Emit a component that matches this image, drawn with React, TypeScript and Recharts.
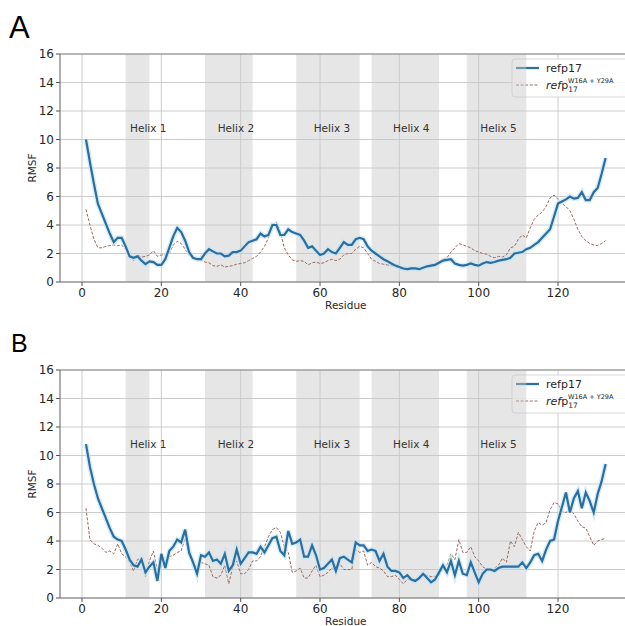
import React from 'react';
import {
  LineChart, Line, XAxis, YAxis, CartesianGrid, ReferenceArea, ReferenceDot, ReferenceLine, Customized,
} from 'recharts';

// residue index 1..132
const residues = Array.from({ length: 132 }, (_, i) => i + 1);

const helixNames = ['Helix 1', 'Helix 2', 'Helix 3', 'Helix 4', 'Helix 5'];
const helixStart = [11, 31, 54, 73, 97];
const helixEnd = [17, 43, 70, 90, 112];
const helixLabelX = [16.7, 38.8, 63, 83, 105];
const helixLabelY = 10.8;

const xTicks = [0, 20, 40, 60, 80, 100, 120];
const yTicks = [0, 2, 4, 6, 8, 10, 12, 14, 16];

// panel A
const refA = [
  10.0, 8.4, 6.9, 5.5, 4.8, 4.1, 3.4, 2.8, 3.1, 3.1,
  2.5, 1.8, 1.7, 1.8, 1.5, 1.25, 1.45, 1.4, 1.2, 1.2,
  1.6, 2.4, 3.2, 3.8, 3.5, 2.9, 2.1, 1.7, 1.6, 1.6,
  2.0, 2.3, 2.15, 2.0, 2.0, 1.8, 1.85, 2.1, 2.1, 2.2,
  2.5, 2.8, 2.9, 3.0, 3.4, 3.2, 3.3, 4.0, 4.0, 3.3,
  3.3, 3.7, 3.5, 3.4, 3.3, 2.9, 2.4, 2.5, 2.2, 1.9,
  2.0, 2.3, 2.1, 2.0, 2.4, 2.8, 2.6, 2.6, 3.0, 3.1,
  3.0, 2.5, 2.2, 2.0, 1.8, 1.6, 1.45, 1.3, 1.15, 1.05,
  0.95, 0.9, 0.95, 0.95, 0.9, 1.0, 1.1, 1.15, 1.2, 1.35,
  1.5, 1.55, 1.6, 1.3, 1.2, 1.15, 1.2, 1.3, 1.2, 1.15,
  1.3, 1.4, 1.35, 1.4, 1.5, 1.55, 1.6, 1.7, 2.0, 2.05,
  2.1, 2.3, 2.4, 2.6, 2.8, 3.1, 3.4, 3.7, 4.6, 5.5,
  5.65, 5.8, 6.0, 5.85, 5.9, 6.3, 5.75, 5.75, 6.3, 6.6,
  7.6, 8.7,
];
const mutA = [
  5.1, 4.0, 3.0, 2.4, 2.4, 2.5, 2.55, 2.6, 2.55, 2.6,
  2.3, 1.8, 1.5, 1.9, 1.75, 1.8, 1.9, 2.2, 1.8, 1.9,
  1.9, 2.0, 2.6, 2.85, 2.7, 2.3, 1.9, 1.65, 1.6, 1.55,
  1.4, 1.35, 1.15, 1.1, 1.2, 1.05, 1.1, 1.15, 1.25, 1.3,
  1.35, 1.5, 1.65, 1.8, 2.1, 2.5, 3.1, 4.0, 4.2, 3.5,
  2.4, 1.9, 1.55, 1.45, 1.5, 1.45, 1.2, 1.35, 1.4, 1.3,
  1.35, 1.5, 1.6, 1.5, 1.6, 1.9, 2.0, 2.0, 2.3, 2.5,
  2.4, 2.0, 1.6, 1.45, 1.3, 1.25, 1.2, 1.15, 1.1, 1.0,
  0.9, 0.85, 0.9, 0.95, 0.95, 1.0, 1.1, 1.2, 1.3, 1.4,
  1.6, 1.7, 2.1, 2.4, 2.7, 2.6, 2.5, 2.4, 2.2, 2.1,
  2.0, 1.95, 1.8, 1.7, 1.8, 1.75, 1.9, 2.4, 2.5, 3.0,
  3.3, 3.1, 3.8, 4.4, 4.7, 4.9, 5.3, 5.9, 6.1, 5.8,
  5.5, 5.3, 5.0, 4.4, 3.7, 3.2, 2.9, 2.7, 2.6, 2.55,
  2.7, 2.9,
];

// panel B
const refB = [
  10.8, 9.2, 8.0, 7.0, 6.3, 5.6, 4.9, 4.3, 4.1, 4.0,
  3.4, 2.7, 2.3, 2.2, 2.7, 1.8, 2.2, 2.5, 1.2, 3.1,
  2.1, 3.3, 3.6, 4.1, 3.9, 4.8, 3.2, 2.5, 1.7, 3.0,
  2.9, 3.2, 2.6, 2.7, 2.4, 3.1, 1.9, 2.3, 3.4, 2.4,
  2.8, 3.2, 3.2, 3.1, 3.6, 3.2, 3.7, 4.2, 4.3, 3.3,
  3.0, 4.7, 3.8, 3.9, 4.1, 2.9, 2.9, 3.7, 3.0, 2.0,
  2.1, 2.4, 2.7, 1.9, 2.8, 2.9, 2.7, 2.5, 3.9, 3.7,
  3.7, 3.3, 3.4, 3.3, 2.6, 3.1, 2.2, 1.9, 1.9, 1.8,
  1.4, 1.6, 1.3, 1.2, 1.4, 1.7, 1.4, 1.1, 1.3, 1.8,
  2.3, 1.8, 2.6, 1.6, 2.6, 1.7, 1.6, 2.5, 1.8, 1.1,
  1.7, 2.0, 2.0, 1.9, 2.1, 2.2, 2.2, 2.2, 2.2, 2.2,
  2.5, 2.1, 2.5, 3.0, 3.1, 2.6, 3.4, 4.0, 4.1, 5.4,
  6.4, 7.4, 6.0, 7.0, 7.5, 6.3, 7.4, 6.8, 6.0, 7.3,
  8.2, 9.4,
];
const mutB = [
  6.3, 4.1, 3.8, 3.7, 3.5, 3.2, 3.3, 3.1, 3.8, 3.1,
  2.9, 2.5, 1.9, 2.7, 2.8, 1.5, 2.6, 3.3, 2.0, 2.2,
  2.6, 2.9, 3.0, 3.2, 3.3, 4.2, 3.0, 2.4, 2.2, 2.5,
  2.4, 2.3, 1.5, 1.4, 1.6, 2.3, 1.0, 2.2, 2.6, 1.7,
  1.7, 2.0, 2.6, 2.6, 2.9, 3.6, 4.3, 4.8, 4.95, 4.6,
  3.6, 3.2, 1.8, 1.9, 2.1, 1.4, 1.4, 1.9, 2.3, 1.5,
  1.6, 1.8, 2.1, 1.9, 2.4, 2.0, 2.0, 2.0, 3.4, 3.2,
  3.3, 2.3, 2.5, 2.2, 2.1, 1.9, 1.5, 1.5, 1.6, 1.3,
  1.0, 1.3, 1.3, 1.3, 1.4, 1.6, 1.6, 1.5, 1.5, 1.6,
  2.1, 2.3, 3.1, 2.7, 4.1, 3.2, 3.2, 3.6, 2.9, 2.6,
  2.2, 2.0, 1.9, 2.1, 2.3, 2.8, 2.5, 4.0, 3.6, 4.6,
  4.1, 3.6, 3.3, 4.7, 5.3, 5.1, 5.3, 6.2, 6.7, 6.6,
  6.1, 6.0, 6.2, 5.9, 5.4, 5.0, 4.9, 4.3, 3.7, 4.0,
  4.1, 4.2,
];

const BLUE = '#2a6f9f';
const HALO = '#c4e4f3';
const BROWN = '#9a6a60';
const TXT = '#262626';

function Overlay({ letter, letterSize, letterX, letterY }: { letter: string; letterSize: number; letterX: number; letterY: number }) {
  return (
    <g>
      <text x={letterX} y={letterY} fontSize={letterSize} fontFamily="Liberation Sans" fill="#000">{letter}</text>
      <rect x={512} y={59} width={130} height={38} rx={3} fill="#fff" fillOpacity={0.85} stroke="#d8d8d8" />
      <line x1={516} x2={539} y1={68} y2={68} stroke={BLUE} strokeWidth={2.2} />
      <text x={546} y={72} fontSize={11} fill={TXT}>refp17</text>
      <line x1={516} x2={539} y1={85} y2={85} stroke={BROWN} strokeWidth={1} strokeDasharray="3 1.6" />
      <text x={546} y={89} fontSize={11} fill={TXT}>
        <tspan fontStyle="italic">ref</tspan>
        <tspan>p</tspan>
        <tspan dy={3} fontSize={7.5}>17</tspan>
        <tspan x={568} dy={-9} fontSize={6.5}>W16A + Y29A</tspan>
      </text>
    </g>
  );
}

function Panel({ refData, mutData, letter, letterSize, letterX, letterY }: {
  refData: number[]; mutData: number[]; letter: string; letterSize: number; letterX: number; letterY: number;
}) {
  const data = residues.map((r, i) => ({ residue: r, ref: refData[i], mut: mutData[i] }));
  return (
    <LineChart width={640} height={312} data={data} margin={{ top: 54, right: 8.4, bottom: 0, left: 0 }}>
      <CartesianGrid stroke="#c6c6c6" strokeWidth={0.9} />
      {helixStart.map((s, i) => (
        <ReferenceArea key={helixNames[i]} x1={s} x2={helixEnd[i]} fill="#c8c8c8" fillOpacity={0.45} stroke="none" />
      ))}
      <XAxis
        dataKey="residue"
        type="number"
        domain={[-5.55, 138.55]}
        ticks={xTicks}
        interval={0}
        allowDataOverflow
        height={30}
        tickSize={4}
        tickMargin={2}
        tick={{ fontSize: 12, fill: TXT, fontFamily: 'DejaVu Sans' }}
        axisLine={{ stroke: '#777' }}
        tickLine={{ stroke: '#555' }}
        label={{ value: 'Residue', position: 'insideBottom', offset: 3.5, fontSize: 10.5, fill: TXT, fontFamily: 'DejaVu Sans' }}
      />
      <YAxis
        type="number"
        domain={[0, 16]}
        ticks={yTicks}
        interval={0}
        allowDataOverflow
        width={60}
        tickSize={4}
        tickMargin={2}
        tick={{ fontSize: 12, fill: TXT, fontFamily: 'DejaVu Sans' }}
        axisLine={{ stroke: '#777' }}
        tickLine={{ stroke: '#555' }}
        label={{ value: 'RMSF', angle: -90, position: 'insideLeft', offset: 32, fontSize: 10.5, fill: TXT, fontFamily: 'DejaVu Sans', style: { textAnchor: 'middle' } }}
      />
      <ReferenceLine y={16} stroke="#888" />
      {helixNames.map((n, i) => (
        <ReferenceDot
          key={n}
          x={helixLabelX[i]}
          y={helixLabelY}
          r={1}
          fill="none"
          stroke="none"
          label={{ value: n, position: 'center', fontSize: 10.5, fill: '#333', fontFamily: 'DejaVu Sans' }}
        />
      ))}
      <Line dataKey="mut" stroke={BROWN} strokeWidth={1} strokeDasharray="3 1.6" dot={false} isAnimationActive={false} />
      <Line dataKey="ref" stroke={HALO} strokeWidth={5} strokeOpacity={0.7} dot={false} isAnimationActive={false} />
      <Line dataKey="ref" stroke={BLUE} strokeWidth={2.2} dot={false} isAnimationActive={false} />
      <Customized component={<Overlay letter={letter} letterSize={letterSize} letterX={letterX} letterY={letterY} />} />
    </LineChart>
  );
}

export default function App() {
  return (
    <div style={{ position: 'absolute', left: 0, top: 0, width: 625, height: 626, overflow: 'hidden', background: '#fff', fontFamily: 'DejaVu Sans' }}>
      <div style={{ position: 'absolute', left: 0, top: 0 }}>
        <Panel refData={refA} mutData={mutA} letter="A" letterSize={31} letterX={9} letterY={38} />
      </div>
      <div style={{ position: 'absolute', left: 0, top: 316 }}>
        <Panel refData={refB} mutData={mutB} letter="B" letterSize={25} letterX={11} letterY={36} />
      </div>
    </div>
  );
}
